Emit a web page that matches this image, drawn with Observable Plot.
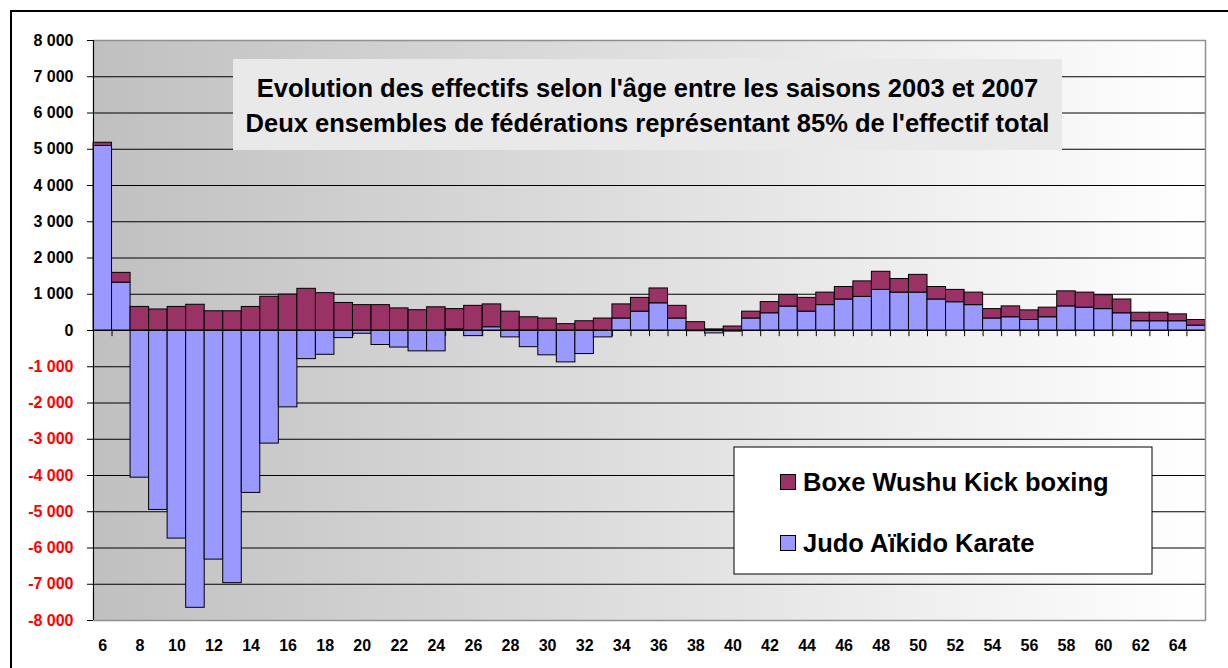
<!DOCTYPE html>
<html><head><meta charset="utf-8">
<script src="https://cdn.jsdelivr.net/npm/d3@7"></script>
<script src="https://cdn.jsdelivr.net/npm/@observablehq/plot@0.6"></script>
<style>html,body{margin:0;padding:0;background:#fff;overflow:hidden}</style>
</head><body><div id="chart"></div>
<script>
// ---- data ----
const ages = [6,7,8,9,10,11,12,13,14,15,16,17,18,19,20,21,22,23,24,25,26,27,28,29,30,31,32,33,34,35,
  36,37,38,39,40,41,42,43,44,45,46,47,48,49,50,51,52,53,54,55,56,57,58,59,60,61,62,63,64,65];
const seriesNames = ["Judo Aïkido Karate", "Boxe Wushu Kick boxing"];
const seriesColors = ["#9999FF", "#993366"];
const judo = [5090,1320,-4060,-4950,-5740,-7650,-6320,-6970,-4480,-3120,-2120,-790,-670,-210,-90,-400,-470,-575,-575,30,
  -155,90,-190,-460,-685,-880,-650,-190,330,520,750,330,-20,-80,-30,330,475,660,520,700,
  855,927,1120,1045,1045,855,780,700,330,365,290,365,665,630,590,475,255,255,255,135];
const boxe = [90,270,650,580,650,710,530,530,650,930,990,1150,1030,760,700,700,610,560,640,560,
  680,630,520,365,330,175,255,330,390,380,410,350,230,30,110,190,310,320,380,345,
  345,428,500,375,490,345,340,345,260,300,265,265,415,415,385,380,235,235,190,155];
const yTicks = [-8000,-7000,-6000,-5000,-4000,-3000,-2000,-1000,0,1000,2000,3000,4000,5000,6000,7000,8000];
const xTickLabels = [6,8,10,12,14,16,18,20,22,24,26,28,30,32,34,36,38,40,42,44,46,48,50,52,54,56,58,60,62,64];
const titleLines = ["Evolution des effectifs selon l'âge entre les saisons 2003 et 2007",
  "Deux ensembles de fédérations représentant 85% de l'effectif total"];
const legendOrder = [1, 0];

// ---- build ----
const rows = ages.flatMap((a, i) => [
  {age: a, series: seriesNames[0], value: judo[i]},
  {age: a, series: seriesNames[1], value: boxe[i]}
]);
const fmt = d => (d < 0 ? "-" : "") + d3.format(",")(Math.abs(d)).replace(/,/g, " ");

const W = 1228, H = 668, mL = 93, mR = 23, mT = 40, mB = 48;
const bw = (W - mL - mR) / ages.length;
const FONT = "'Liberation Sans', Arial, sans-serif";

const svg = Plot.plot({
  width: W, height: H,
  marginLeft: mL, marginRight: mR, marginTop: mT, marginBottom: mB,
  style: {fontFamily: FONT, fontSize: "16px", fontWeight: "bold", background: "#fff", color: "#000"},
  x: {type: "band", domain: ages, padding: 0},
  y: {domain: [-8000, 8000]},
  color: {domain: seriesNames, range: seriesColors},
  marks: [
    Plot.frame({fill: "url(#bgGrad)", stroke: "none"}),
    Plot.gridY(yTicks.filter(d => Math.abs(d) < 8000), {stroke: "#000", strokeOpacity: 1, strokeWidth: 1}),
    Plot.ruleX(ages, {x: d => d, y1: 0, y2: -170, dx: -bw / 2, stroke: "#000"}),
    Plot.barY(rows, Plot.stackY({x: "age", y: "value", fill: "series", z: "series", order: seriesNames,
      stroke: "#000", strokeWidth: 1})),
    Plot.ruleY([0], {stroke: "#000", strokeWidth: 1}),
    Plot.frame({stroke: "#909090", strokeWidth: 1.5, fill: "none"}),
    Plot.ruleX([ages[0]], {x: d => d, dx: -bw / 2, y1: -8000, y2: 8000, stroke: "#000"}),
    Plot.axisY(yTicks.filter(d => d >= 0), {tickFormat: fmt, tickSize: 6, tickPadding: 14, fill: "#000", stroke: "#000", label: null}),
    Plot.axisY(yTicks.filter(d => d < 0), {tickFormat: fmt, tickSize: 6, tickPadding: 14, fill: "#ff0000", stroke: "#000", label: null}),
    Plot.axisX(xTickLabels, {tickSize: 0, tickPadding: 19, fill: "#000", label: null})
  ]
});

document.getElementById("chart").appendChild(svg);

const s = d3.select(svg);
const defs = s.insert("defs", ":first-child");
const g = defs.append("linearGradient").attr("id", "bgGrad").attr("x1", "0").attr("x2", "1").attr("y1", "0").attr("y2", "0");
g.append("stop").attr("offset", "0").attr("stop-color", "#c0c0c0");
g.append("stop").attr("offset", "1").attr("stop-color", "#ffffff");

// outer chart border
s.append("rect").attr("x", 11).attr("y", 11).attr("width", W + 20).attr("height", H + 20)
  .attr("fill", "none").attr("stroke", "#000").attr("stroke-width", 2);

// title box
const tb = s.append("g");
tb.append("rect").attr("x", 233).attr("y", 59).attr("width", 829).attr("height", 91).attr("fill", "#e9e9e9");
titleLines.forEach((t, i) => {
  tb.append("text").attr("x", 647.5).attr("y", 88 + i * 35).attr("text-anchor", "middle")
    .attr("dominant-baseline", "central").attr("font-family", FONT).attr("font-weight", "bold")
    .attr("font-size", 25.5).attr("fill", "#000").text(t);
});

// legend
const lg = s.append("g");
lg.append("rect").attr("x", 734).attr("y", 447).attr("width", 418).attr("height", 127)
  .attr("fill", "#fff").attr("stroke", "#000").attr("stroke-width", 1);
legendOrder.forEach((k, i) => {
  const cy = 482 + i * 61;
  lg.append("rect").attr("x", 780.5).attr("y", cy - 7.5).attr("width", 15).attr("height", 15)
    .attr("fill", seriesColors[k]).attr("stroke", "#000").attr("stroke-width", 1);
  lg.append("text").attr("x", 803).attr("y", cy).attr("text-anchor", "start").attr("dominant-baseline", "central")
    .attr("font-family", FONT).attr("font-weight", "bold").attr("font-size", 25.5).attr("fill", "#000")
    .text(seriesNames[k]);
});
</script>
</body></html>
